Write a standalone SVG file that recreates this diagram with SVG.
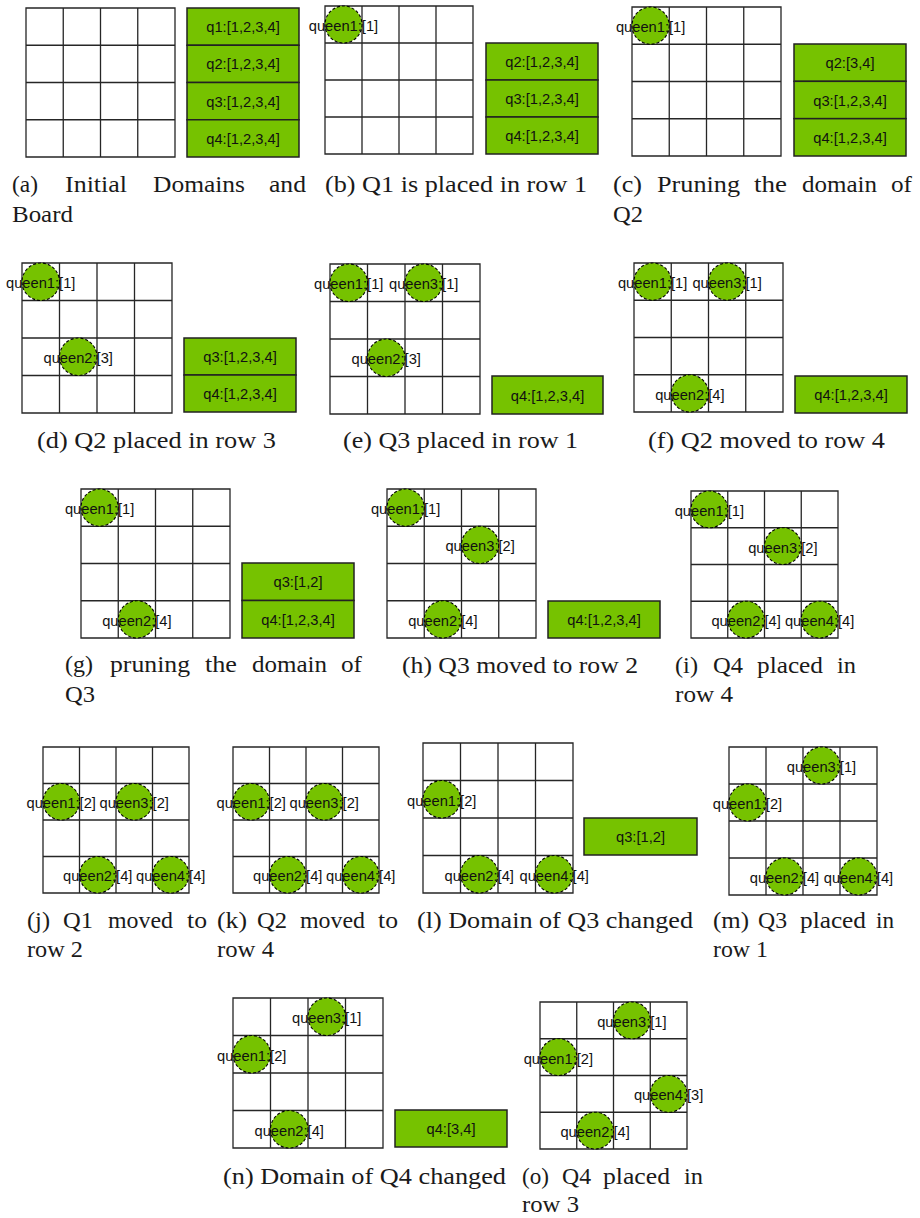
<svg xmlns="http://www.w3.org/2000/svg" xmlns:xlink="http://www.w3.org/1999/xlink" width="920" height="1218" viewBox="0 0 920 1218">
<style>
  .grid rect, .grid path { fill:#fff; stroke:#262626; stroke-width:1.3; vector-effect:non-scaling-stroke; }
  .grid path { fill:none; }
  .q circle { fill:#76c200; stroke:#000; stroke-width:1.1; stroke-dasharray:3 2; }
  .lbl { font-family:"Liberation Sans", Arial, sans-serif; font-size:14.7px; text-anchor:middle; fill:#111; }
  .dom rect { fill:#76c200; stroke:#222; stroke-width:1.5; }
  .cap { font-family:"Liberation Serif", "Times New Roman", serif; font-size:22.5px; fill:#1a1a1a; }
</style>
<defs>
  <!-- 4x4 chess board, 150 units square -->
  <g id="board" class="grid">
    <rect x="0" y="0" width="150" height="150"/>
    <path d="M37.5 0V150M75 0V150M112.5 0V150M0 37.5H150M0 75H150M0 112.5H150"/>
  </g>
</defs>

<!-- (a) initial domains and board -->
<g id="panel-a">
  <use xlink:href="#board" href="#board" transform="translate(26 8) scale(0.99333)"/>
  <g id="a-q1" class="dom"><rect x="187" y="8" width="112" height="37.25"/><text class="lbl" x="243" y="32.1">q1:[1,2,3,4]</text></g>
  <g id="a-q2" class="dom"><rect x="187" y="45.25" width="112" height="37.25"/><text class="lbl" x="243" y="69.4">q2:[1,2,3,4]</text></g>
  <g id="a-q3" class="dom"><rect x="187" y="82.5" width="112" height="37.25"/><text class="lbl" x="243" y="106.6">q3:[1,2,3,4]</text></g>
  <g id="a-q4" class="dom"><rect x="187" y="119.75" width="112" height="37.25"/><text class="lbl" x="243" y="143.9">q4:[1,2,3,4]</text></g>
  <g class="cap">
    <text x="12" y="192" textLength="26" lengthAdjust="spacingAndGlyphs">(a)</text>
    <text x="65" y="192" textLength="62" lengthAdjust="spacingAndGlyphs">Initial</text>
    <text x="153" y="192" textLength="92" lengthAdjust="spacingAndGlyphs">Domains</text>
    <text x="269" y="192" textLength="37" lengthAdjust="spacingAndGlyphs">and</text>
    <text x="12" y="222" textLength="61" lengthAdjust="spacingAndGlyphs">Board</text>
  </g>
</g>

<!-- (b) Q1 placed in row 1 -->
<g id="panel-b">
  <use xlink:href="#board" href="#board" transform="translate(325 6) scale(0.98667)"/>
  <g id="b-queen1" class="q"><circle cx="343.5" cy="24.5" r="18.5"/><text class="lbl" x="343.5" y="31">queen1:[1]</text></g>
  <g id="b-q2" class="dom"><rect x="486" y="43" width="112" height="37"/><text class="lbl" x="542" y="67">q2:[1,2,3,4]</text></g>
  <g id="b-q3" class="dom"><rect x="486" y="80" width="112" height="37"/><text class="lbl" x="542" y="104">q3:[1,2,3,4]</text></g>
  <g id="b-q4" class="dom"><rect x="486" y="117" width="112" height="37"/><text class="lbl" x="542" y="141">q4:[1,2,3,4]</text></g>
  <text class="cap" x="325" y="192" textLength="262" lengthAdjust="spacingAndGlyphs">(b) Q1 is placed in row 1</text>
</g>

<!-- (c) pruning the domain of Q2 -->
<g id="panel-c">
  <use xlink:href="#board" href="#board" transform="translate(632 7) scale(0.99333)"/>
  <g id="c-queen1" class="q"><circle cx="650.6" cy="25.6" r="18.6"/><text class="lbl" x="650.6" y="32.1">queen1:[1]</text></g>
  <g id="c-q2" class="dom"><rect x="794" y="44" width="112" height="37.33"/><text class="lbl" x="850" y="68.2">q2:[3,4]</text></g>
  <g id="c-q3" class="dom"><rect x="794" y="81.33" width="112" height="37.33"/><text class="lbl" x="850" y="105.5">q3:[1,2,3,4]</text></g>
  <g id="c-q4" class="dom"><rect x="794" y="118.67" width="112" height="37.33"/><text class="lbl" x="850" y="142.8">q4:[1,2,3,4]</text></g>
  <g class="cap">
    <text x="613" y="192" textLength="29" lengthAdjust="spacingAndGlyphs">(c)</text>
    <text x="657" y="192" textLength="83" lengthAdjust="spacingAndGlyphs">Pruning</text>
    <text x="754" y="192" textLength="33" lengthAdjust="spacingAndGlyphs">the</text>
    <text x="802" y="192" textLength="75" lengthAdjust="spacingAndGlyphs">domain</text>
    <text x="891" y="192" textLength="21" lengthAdjust="spacingAndGlyphs">of</text>
    <text x="613" y="222" textLength="30" lengthAdjust="spacingAndGlyphs">Q2</text>
  </g>
</g>

<!-- (d) Q2 placed in row 3 -->
<g id="panel-d">
  <use xlink:href="#board" href="#board" transform="translate(22 263)"/>
  <g id="d-queen1" class="q"><circle cx="40.75" cy="281.75" r="18.75"/><text class="lbl" x="40.75" y="288.25">queen1:[1]</text></g>
  <g id="d-queen2" class="q"><circle cx="78.25" cy="356.75" r="18.75"/><text class="lbl" x="78.25" y="363.25">queen2:[3]</text></g>
  <g id="d-q3" class="dom"><rect x="184" y="338" width="112" height="37"/><text class="lbl" x="240" y="362">q3:[1,2,3,4]</text></g>
  <g id="d-q4" class="dom"><rect x="184" y="375" width="112" height="37"/><text class="lbl" x="240" y="399">q4:[1,2,3,4]</text></g>
  <text class="cap" x="37" y="448" textLength="239" lengthAdjust="spacingAndGlyphs">(d) Q2 placed in row 3</text>
</g>

<!-- (e) Q3 placed in row 1 -->
<g id="panel-e">
  <use xlink:href="#board" href="#board" transform="translate(330 264)"/>
  <g id="e-queen1" class="q"><circle cx="348.75" cy="282.75" r="18.75"/><text class="lbl" x="348.75" y="289.25">queen1:[1]</text></g>
  <g id="e-queen3" class="q"><circle cx="423.75" cy="282.75" r="18.75"/><text class="lbl" x="423.75" y="289.25">queen3:[1]</text></g>
  <g id="e-queen2" class="q"><circle cx="386.25" cy="357.75" r="18.75"/><text class="lbl" x="386.25" y="364.25">queen2:[3]</text></g>
  <g id="e-q4" class="dom"><rect x="492" y="376" width="111" height="38"/><text class="lbl" x="547.5" y="400.5">q4:[1,2,3,4]</text></g>
  <text class="cap" x="343" y="448" textLength="235" lengthAdjust="spacingAndGlyphs">(e) Q3 placed in row 1</text>
</g>

<!-- (f) Q2 moved to row 4 -->
<g id="panel-f">
  <use xlink:href="#board" href="#board" transform="translate(634 263) scale(0.99333)"/>
  <g id="f-queen1" class="q"><circle cx="652.6" cy="281.6" r="18.6"/><text class="lbl" x="652.6" y="288.1">queen1:[1]</text></g>
  <g id="f-queen3" class="q"><circle cx="727.1" cy="281.6" r="18.6"/><text class="lbl" x="727.1" y="288.1">queen3:[1]</text></g>
  <g id="f-queen2" class="q"><circle cx="689.9" cy="393.4" r="18.6"/><text class="lbl" x="689.9" y="399.9">queen2:[4]</text></g>
  <g id="f-q4" class="dom"><rect x="795" y="376" width="112" height="37"/><text class="lbl" x="851" y="400">q4:[1,2,3,4]</text></g>
  <text class="cap" x="648" y="448" textLength="237" lengthAdjust="spacingAndGlyphs">(f) Q2 moved to row 4</text>
</g>

<!-- (g) pruning the domain of Q3 -->
<g id="panel-g">
  <use xlink:href="#board" href="#board" transform="translate(81 489) scale(0.99333)"/>
  <g id="g-queen1" class="q"><circle cx="99.6" cy="507.6" r="18.6"/><text class="lbl" x="99.6" y="514.1">queen1:[1]</text></g>
  <g id="g-queen2" class="q"><circle cx="136.9" cy="619.4" r="18.6"/><text class="lbl" x="136.9" y="625.9">queen2:[4]</text></g>
  <g id="g-q3" class="dom"><rect x="242" y="563" width="112" height="37.5"/><text class="lbl" x="298" y="587.3">q3:[1,2]</text></g>
  <g id="g-q4" class="dom"><rect x="242" y="600.5" width="112" height="37.5"/><text class="lbl" x="298" y="624.8">q4:[1,2,3,4]</text></g>
  <g class="cap">
    <text x="65" y="672" textLength="28" lengthAdjust="spacingAndGlyphs">(g)</text>
    <text x="110" y="672" textLength="80" lengthAdjust="spacingAndGlyphs">pruning</text>
    <text x="205" y="672" textLength="32" lengthAdjust="spacingAndGlyphs">the</text>
    <text x="252" y="672" textLength="75" lengthAdjust="spacingAndGlyphs">domain</text>
    <text x="341" y="672" textLength="21" lengthAdjust="spacingAndGlyphs">of</text>
    <text x="65" y="702" textLength="30" lengthAdjust="spacingAndGlyphs">Q3</text>
  </g>
</g>

<!-- (h) Q3 moved to row 2 -->
<g id="panel-h">
  <use xlink:href="#board" href="#board" transform="translate(387 489) scale(0.99333)"/>
  <g id="h-queen1" class="q"><circle cx="405.6" cy="507.6" r="18.6"/><text class="lbl" x="405.6" y="514.1">queen1:[1]</text></g>
  <g id="h-queen3" class="q"><circle cx="480.1" cy="544.9" r="18.6"/><text class="lbl" x="480.1" y="551.4">queen3:[2]</text></g>
  <g id="h-queen2" class="q"><circle cx="442.9" cy="619.4" r="18.6"/><text class="lbl" x="442.9" y="625.9">queen2:[4]</text></g>
  <g id="h-q4" class="dom"><rect x="548" y="601" width="112" height="37"/><text class="lbl" x="604" y="625">q4:[1,2,3,4]</text></g>
  <text class="cap" x="402" y="673" textLength="236" lengthAdjust="spacingAndGlyphs">(h) Q3 moved to row 2</text>
</g>

<!-- (i) Q4 placed in row 4 -->
<g id="panel-i">
  <use xlink:href="#board" href="#board" transform="translate(691 491) scale(0.98)"/>
  <g id="i-queen1" class="q"><circle cx="709.4" cy="509.4" r="18.4"/><text class="lbl" x="709.4" y="515.9">queen1:[1]</text></g>
  <g id="i-queen3" class="q"><circle cx="782.9" cy="546.1" r="18.4"/><text class="lbl" x="782.9" y="552.6">queen3:[2]</text></g>
  <g id="i-queen2" class="q"><circle cx="746.1" cy="619.6" r="18.4"/><text class="lbl" x="746.1" y="626.1">queen2:[4]</text></g>
  <g id="i-queen4" class="q"><circle cx="819.6" cy="619.6" r="18.4"/><text class="lbl" x="819.6" y="626.1">queen4:[4]</text></g>
  <g class="cap">
    <text x="675" y="673" textLength="23" lengthAdjust="spacingAndGlyphs">(i)</text>
    <text x="713" y="673" textLength="30" lengthAdjust="spacingAndGlyphs">Q4</text>
    <text x="757" y="673" textLength="66" lengthAdjust="spacingAndGlyphs">placed</text>
    <text x="837" y="673" textLength="19" lengthAdjust="spacingAndGlyphs">in</text>
    <text x="675" y="702" textLength="58" lengthAdjust="spacingAndGlyphs">row 4</text>
  </g>
</g>

<!-- (j) Q1 moved to row 2 -->
<g id="panel-j">
  <use xlink:href="#board" href="#board" transform="translate(43 747) scale(0.97333)"/>
  <g id="j-queen1" class="q"><circle cx="61.25" cy="801.75" r="18.25"/><text class="lbl" x="61.25" y="808.25">queen1:[2]</text></g>
  <g id="j-queen3" class="q"><circle cx="134.25" cy="801.75" r="18.25"/><text class="lbl" x="134.25" y="808.25">queen3:[2]</text></g>
  <g id="j-queen2" class="q"><circle cx="97.75" cy="874.75" r="18.25"/><text class="lbl" x="97.75" y="881.25">queen2:[4]</text></g>
  <g id="j-queen4" class="q"><circle cx="170.75" cy="874.75" r="18.25"/><text class="lbl" x="170.75" y="881.25">queen4:[4]</text></g>
  <g class="cap">
    <text x="27" y="928" textLength="23" lengthAdjust="spacingAndGlyphs">(j)</text>
    <text x="63" y="928" textLength="30" lengthAdjust="spacingAndGlyphs">Q1</text>
    <text x="108" y="928" textLength="65" lengthAdjust="spacingAndGlyphs">moved</text>
    <text x="187" y="928" textLength="20" lengthAdjust="spacingAndGlyphs">to</text>
    <text x="27" y="957" textLength="56" lengthAdjust="spacingAndGlyphs">row 2</text>
  </g>
</g>

<!-- (k) Q2 moved to row 4 -->
<g id="panel-k">
  <use xlink:href="#board" href="#board" transform="translate(233 747) scale(0.97333)"/>
  <g id="k-queen1" class="q"><circle cx="251.25" cy="801.75" r="18.25"/><text class="lbl" x="251.25" y="808.25">queen1:[2]</text></g>
  <g id="k-queen3" class="q"><circle cx="324.25" cy="801.75" r="18.25"/><text class="lbl" x="324.25" y="808.25">queen3:[2]</text></g>
  <g id="k-queen2" class="q"><circle cx="287.75" cy="874.75" r="18.25"/><text class="lbl" x="287.75" y="881.25">queen2:[4]</text></g>
  <g id="k-queen4" class="q"><circle cx="360.75" cy="874.75" r="18.25"/><text class="lbl" x="360.75" y="881.25">queen4:[4]</text></g>
  <g class="cap">
    <text x="217" y="928" textLength="30" lengthAdjust="spacingAndGlyphs">(k)</text>
    <text x="257" y="928" textLength="30" lengthAdjust="spacingAndGlyphs">Q2</text>
    <text x="300" y="928" textLength="65" lengthAdjust="spacingAndGlyphs">moved</text>
    <text x="378" y="928" textLength="20" lengthAdjust="spacingAndGlyphs">to</text>
    <text x="217" y="957" textLength="57" lengthAdjust="spacingAndGlyphs">row 4</text>
  </g>
</g>

<!-- (l) domain of Q3 changed -->
<g id="panel-l">
  <use xlink:href="#board" href="#board" transform="translate(423 743)"/>
  <g id="l-queen1" class="q"><circle cx="441.75" cy="799.25" r="18.75"/><text class="lbl" x="441.75" y="805.75">queen1:[2]</text></g>
  <g id="l-queen2" class="q"><circle cx="479.25" cy="874.25" r="18.75"/><text class="lbl" x="479.25" y="880.75">queen2:[4]</text></g>
  <g id="l-queen4" class="q"><circle cx="554.25" cy="874.25" r="18.75"/><text class="lbl" x="554.25" y="880.75">queen4:[4]</text></g>
  <g id="l-q3" class="dom"><rect x="584" y="818" width="113" height="37"/><text class="lbl" x="640.5" y="842">q3:[1,2]</text></g>
  <text class="cap" x="417" y="928" textLength="276" lengthAdjust="spacingAndGlyphs">(l) Domain of Q3 changed</text>
</g>

<!-- (m) Q3 placed in row 1 -->
<g id="panel-m">
  <use xlink:href="#board" href="#board" transform="translate(729 747) scale(0.98667)"/>
  <g id="m-queen3" class="q"><circle cx="821.5" cy="765.5" r="18.5"/><text class="lbl" x="821.5" y="772">queen3:[1]</text></g>
  <g id="m-queen1" class="q"><circle cx="747.5" cy="802.5" r="18.5"/><text class="lbl" x="747.5" y="809">queen1:[2]</text></g>
  <g id="m-queen2" class="q"><circle cx="784.5" cy="876.5" r="18.5"/><text class="lbl" x="784.5" y="883">queen2:[4]</text></g>
  <g id="m-queen4" class="q"><circle cx="858.5" cy="876.5" r="18.5"/><text class="lbl" x="858.5" y="883">queen4:[4]</text></g>
  <g class="cap">
    <text x="713" y="928" textLength="36" lengthAdjust="spacingAndGlyphs">(m)</text>
    <text x="758" y="928" textLength="29" lengthAdjust="spacingAndGlyphs">Q3</text>
    <text x="800" y="928" textLength="66" lengthAdjust="spacingAndGlyphs">placed</text>
    <text x="876" y="928" textLength="18" lengthAdjust="spacingAndGlyphs">in</text>
    <text x="713" y="957" textLength="55" lengthAdjust="spacingAndGlyphs">row 1</text>
  </g>
</g>

<!-- (n) domain of Q4 changed -->
<g id="panel-n">
  <use xlink:href="#board" href="#board" transform="translate(233 998)"/>
  <g id="n-queen3" class="q"><circle cx="326.75" cy="1016.75" r="18.75"/><text class="lbl" x="326.75" y="1023.25">queen3:[1]</text></g>
  <g id="n-queen1" class="q"><circle cx="251.75" cy="1054.25" r="18.75"/><text class="lbl" x="251.75" y="1060.75">queen1:[2]</text></g>
  <g id="n-queen2" class="q"><circle cx="289.25" cy="1129.25" r="18.75"/><text class="lbl" x="289.25" y="1135.75">queen2:[4]</text></g>
  <g id="n-q4" class="dom"><rect x="395" y="1110" width="112" height="37"/><text class="lbl" x="451" y="1134">q4:[3,4]</text></g>
  <text class="cap" x="223" y="1184" textLength="283" lengthAdjust="spacingAndGlyphs">(n) Domain of Q4 changed</text>
</g>

<!-- (o) Q4 placed in row 3 -->
<g id="panel-o">
  <use xlink:href="#board" href="#board" transform="translate(540 1002) scale(0.98)"/>
  <g id="o-queen3" class="q"><circle cx="631.9" cy="1020.4" r="18.4"/><text class="lbl" x="631.9" y="1026.9">queen3:[1]</text></g>
  <g id="o-queen1" class="q"><circle cx="558.4" cy="1057.1" r="18.4"/><text class="lbl" x="558.4" y="1063.6">queen1:[2]</text></g>
  <g id="o-queen4" class="q"><circle cx="668.6" cy="1093.9" r="18.4"/><text class="lbl" x="668.6" y="1100.4">queen4:[3]</text></g>
  <g id="o-queen2" class="q"><circle cx="595.1" cy="1130.6" r="18.4"/><text class="lbl" x="595.1" y="1137.1">queen2:[4]</text></g>
  <g class="cap">
    <text x="522" y="1184" textLength="27" lengthAdjust="spacingAndGlyphs">(o)</text>
    <text x="562" y="1184" textLength="29" lengthAdjust="spacingAndGlyphs">Q4</text>
    <text x="603" y="1184" textLength="67" lengthAdjust="spacingAndGlyphs">placed</text>
    <text x="684" y="1184" textLength="19" lengthAdjust="spacingAndGlyphs">in</text>
    <text x="522" y="1212" textLength="57" lengthAdjust="spacingAndGlyphs">row 3</text>
  </g>
</g>
</svg>
